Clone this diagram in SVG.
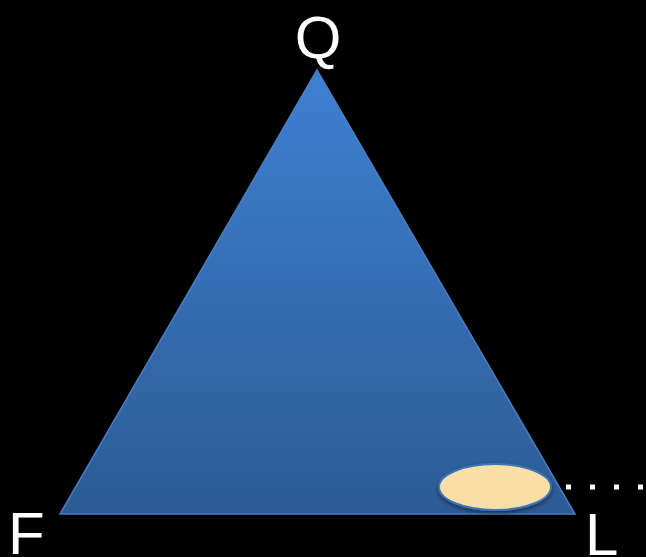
<svg xmlns="http://www.w3.org/2000/svg" width="646" height="557" viewBox="0 0 646 557">
<defs>
<linearGradient id="tri" x1="0" y1="0" x2="0" y2="1">
<stop offset="0" stop-color="#3E80D2"/>
<stop offset="1" stop-color="#2C5B94"/>
</linearGradient>
<filter id="sh" x="-20%" y="-30%" width="140%" height="160%">
<feGaussianBlur in="SourceAlpha" stdDeviation="2"/>
<feOffset dx="0" dy="2"/>
<feComponentTransfer><feFuncA type="linear" slope="0.5"/></feComponentTransfer>
<feMerge><feMergeNode/><feMergeNode in="SourceGraphic"/></feMerge>
</filter>
</defs>
<style>
.lbl{font-family:"Liberation Sans",Arial,sans-serif;font-size:60px;fill:#FFFFFF}
</style>
<rect width="646" height="557" fill="#000000"/>
<g id="triangle">
<polygon points="317,70 60,514 575,514" fill="url(#tri)" stroke="#4A7FC1" stroke-width="1.5"/>
</g>
<g id="ellipse">
<ellipse cx="495" cy="487" rx="56" ry="23" fill="#F8DFA5" stroke="#3E74B6" stroke-width="2" filter="url(#sh)"/>
</g>
<g id="connectors">
<line x1="566" y1="487" x2="646" y2="487" stroke="#FFFFFF" stroke-width="5" stroke-dasharray="5 19"/>
</g>
<g id="label-Q"><text class="lbl" x="318" y="58" text-anchor="middle">Q</text></g>
<g id="label-F"><text class="lbl" x="8" y="554">F</text></g>
<g id="label-L"><text class="lbl" x="585" y="555">L</text></g>
</svg>
